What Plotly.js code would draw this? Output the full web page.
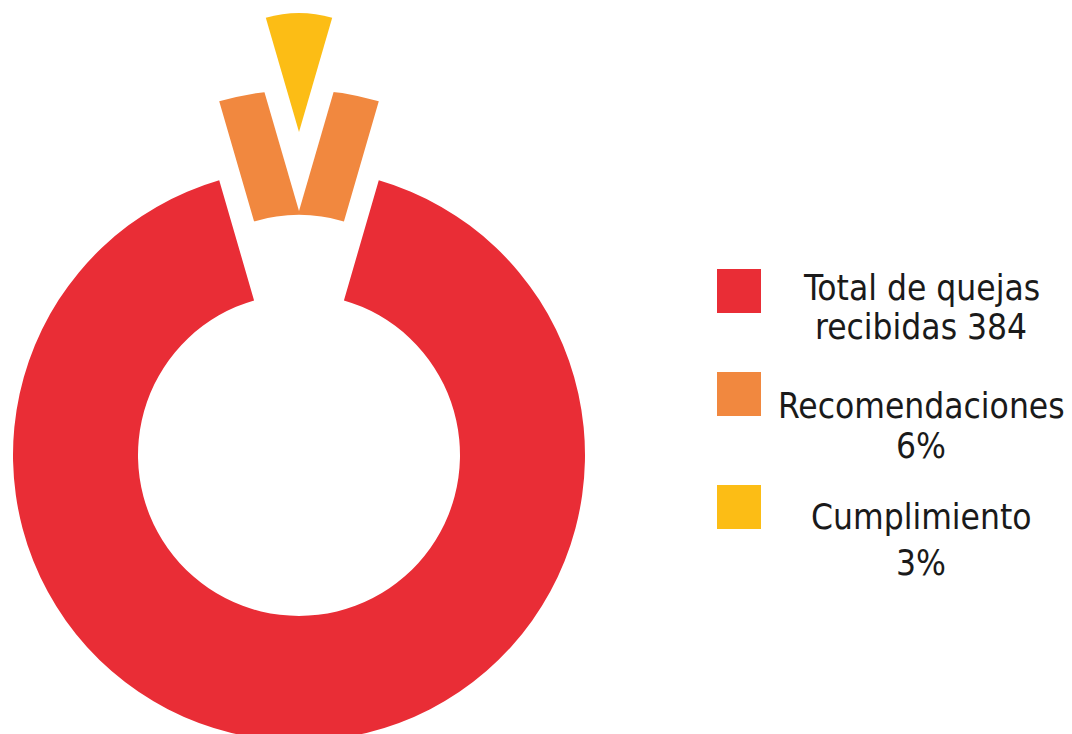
<!DOCTYPE html>
<html>
<head>
<meta charset="utf-8">
<script src="https://cdn.plot.ly/plotly-3.0.1.min.js"></script>
<style>
  html, body { margin: 0; padding: 0; background: #ffffff; overflow: hidden; width: 1072px; height: 734px; }
  #chart { position: absolute; left: -100px; top: 0px; width: 1272px; height: 900px; }
</style>
</head>
<body>
<div id="chart"></div>
<script>
// ---- data ----
const categories = ['Total de quejas recibidas', 'Recomendaciones', 'Cumplimiento'];
const totalQuejas = 384;
const percentages = [91, 6, 3];              // share of complaints (Total = remainder)
const legendLine1 = ['Total de quejas', 'Recomendaciones', 'Cumplimiento'];
const legendLine2 = ['recibidas ' + totalQuejas, '6%', '3%'];
const colors = ['#E92D36', '#F1883F', '#FCBD15'];

// ---- layout helpers (positions in screen pixels) ----
const OFFX = 100, W = 1272, H = 900;
const px2x = x => (x + OFFX) / W;
const px2y = y => 1 - y / H;
function domainFor(cx, cy, half) {
  return { x: [px2x(cx - half), px2x(cx + half)], y: [px2y(cy + half), px2y(cy - half)] };
}

const pulledShare = percentages[1] + percentages[2];   // recomendaciones + cumplimiento
const ringValues = [pulledShare, percentages[0]];
const rot = -(pulledShare / (pulledShare + percentages[0])) * 360 / 2;
const transparent = 'rgba(0,0,0,0)';

// ring geometry
const ringCx = 299, ringCy = 455, ringR = 286, holeR = 161;
const ringPull = 79 / ringR;
// wedge geometry (apex of the V)
const apexCx = 299, apexCy = 211, wedgeR = 119;
const wedgePull = 79 / wedgeR;

const common = {
  type: 'pie', sort: false, direction: 'clockwise', rotation: rot,
  textinfo: 'none', showlegend: false, hoverinfo: 'skip'
};

const traces = [
  Object.assign({}, common, {
    name: 'anillo',
    labels: [categories[1] + ' + ' + categories[2], categories[0]],
    values: ringValues,
    hole: holeR / ringR,
    pull: [ringPull, 0],
    marker: { colors: [colors[1], colors[0]], line: { width: 0 } },
    domain: domainFor(ringCx, ringCy, ringR * (1 + ringPull))
  }),
  Object.assign({}, common, {
    name: 'corte',
    labels: ['corte', 'resto'],
    values: ringValues,
    marker: { colors: ['#ffffff', transparent], line: { width: 0 } },
    domain: domainFor(apexCx, apexCy, 130)
  }),
  Object.assign({}, common, {
    name: categories[2],
    labels: [categories[2], 'resto'],
    values: ringValues,
    pull: [wedgePull, 0],
    marker: { colors: [colors[2], transparent], line: { width: 0 } },
    domain: domainFor(apexCx, apexCy, wedgeR * (1 + wedgePull))
  })
];

// legend swatches and text
const swatchTop = [269, 372, 485];
const swatchX = 717, swatchSize = 44;
const line1Y = [288, 406, 517];
const line2Y = [327, 446, 563];
const textX = 921;

const shapes = swatchTop.map((t, i) => ({
  type: 'rect', xref: 'paper', yref: 'paper',
  x0: px2x(swatchX), x1: px2x(swatchX + swatchSize),
  y0: px2y(t + swatchSize), y1: px2y(t),
  fillcolor: colors[i], line: { width: 0 }
}));

const font = { family: 'DejaVu Sans Condensed, Liberation Sans, Arial, sans-serif', size: 35, color: '#1a1a1a' };
const annotations = [];
for (let i = 0; i < categories.length; i++) {
  annotations.push({ xref: 'paper', yref: 'paper', x: px2x(textX), y: px2y(line1Y[i]),
    xanchor: 'center', yanchor: 'middle', showarrow: false, text: legendLine1[i], font: font });
  annotations.push({ xref: 'paper', yref: 'paper', x: px2x(textX), y: px2y(line2Y[i]),
    xanchor: 'center', yanchor: 'middle', showarrow: false, text: legendLine2[i], font: font });
}

const layout = {
  width: W, height: H,
  margin: { l: 0, r: 0, t: 0, b: 0 },
  paper_bgcolor: '#ffffff', plot_bgcolor: '#ffffff',
  showlegend: false,
  shapes: shapes,
  annotations: annotations
};

Plotly.newPlot('chart', traces, layout, { displayModeBar: false, staticPlot: true });
</script>
</body>
</html>
